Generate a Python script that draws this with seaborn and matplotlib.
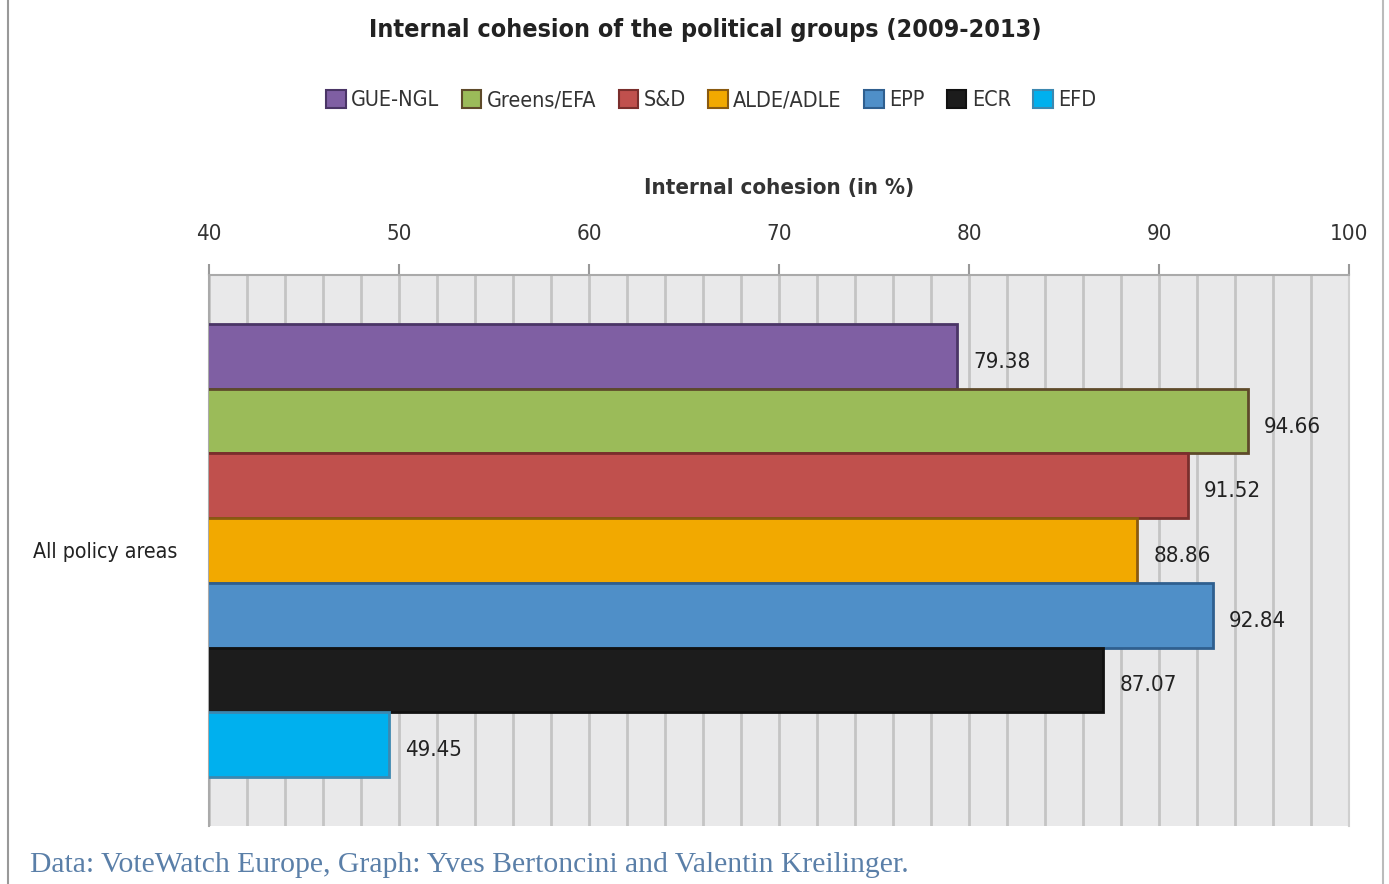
import matplotlib
matplotlib.use("Agg")
import matplotlib.pyplot as plt
import seaborn as sns
import pandas as pd
from matplotlib.patches import Patch
from matplotlib.lines import Line2D
from matplotlib.ticker import MultipleLocator

groups = ["GUE-NGL", "Greens/EFA", "S&D", "ALDE/ADLE", "EPP", "ECR", "EFD"]
values = [79.38, 94.66, 91.52, 88.86, 92.84, 87.07, 49.45]
category = ["All policy areas"] * len(groups)
colors = ["#7f5fa3", "#9bbb59", "#c0504d", "#f2a900", "#4f8fc8", "#1c1c1c", "#00b0ee"]
edges = ["#4a3566", "#5e4a2a", "#7a2e2c", "#8a5a10", "#2f5f8f", "#111111", "#3d88b0"]

sns.set_theme(style="white")
plt.rcParams['font.family'] = ['DejaVu Sans']
plt.rcParams['font.stretch'] = 'condensed'

df = pd.DataFrame({"area": category, "group": groups, "value": values})

fig = plt.figure(figsize=(13.89, 8.84), dpi=100)
ax = fig.add_axes([209/1389, 1 - 826/884, (1349-209)/1389, (826-275)/884])
ax.set_facecolor("#e9e9ea")

sns.barplot(data=df, x="value", y="area", hue="group", hue_order=groups,
            palette=colors, orient="h", width=0.822, dodge=True,
            legend=False, ax=ax, saturation=1, zorder=3)

for p, ec in zip(ax.patches, edges):
    p.set_edgecolor(ec)
    p.set_linewidth(2)

ax.set_xlim(40, 100)
ax.set_ylim(0.5, -0.5)

ax.xaxis.set_major_locator(MultipleLocator(10))
ax.xaxis.set_minor_locator(MultipleLocator(2))
ax.grid(which="both", axis="x", color="#c4c4c4", linewidth=2, zorder=0)
ax.set_axisbelow(True)
ax.xaxis.tick_top()
ax.xaxis.set_label_position("top")
ax.tick_params(axis="x", which="major", top=True, length=8, width=1.5, color="#999999",
               labelsize=16, pad=14, labelcolor="#333333")
ax.tick_params(axis="x", which="minor", top=False)
ax.set_xlabel("Internal cohesion (in %)", fontsize=16, fontweight="bold", color="#333333", labelpad=22)
ax.set_ylabel("")
ax.tick_params(axis="y", left=False, labelsize=15.3, labelcolor="#222222", pad=17)

ax.spines["bottom"].set_visible(False)
for s in ["top", "left", "right"]:
    ax.spines[s].set_color("#aaaaaa")
    ax.spines[s].set_linewidth(1.5)
ax.spines["right"].set_color("#cfcfcf")

for p, v in zip(ax.patches, values):
    y = p.get_y() + p.get_height() / 2
    ax.text(v + 0.85, y + 0.01, f"{v:.2f}", va="center", ha="left", fontsize=16, color="#222222", zorder=5)

handles = [Patch(facecolor=c, edgecolor=e, linewidth=1.5) for c, e in zip(colors, edges)]
fig.legend(handles, groups, loc="center", bbox_to_anchor=(0.512, 1 - 100/884), ncol=7,
           frameon=False, fontsize=15.5, handlelength=0.9, handleheight=0.9,
           handletextpad=0.25, columnspacing=1.05, labelcolor="#333333")

fig.text(0.508, 1 - 30/884, "Internal cohesion of the political groups (2009-2013)",
         ha="center", va="center", fontsize=18, fontweight="bold", color="#222222")

fig.text(30/1389, 1 - 865/884,
         "Data: VoteWatch Europe, Graph: Yves Bertoncini and Valentin Kreilinger.",
         ha="left", va="center", fontsize=21.3, color="#5a7fa8", family=["Liberation Serif", "DejaVu Serif"],
         stretch="normal")

fig.add_artist(Line2D([8/1389, 8/1389], [0, 1], transform=fig.transFigure, color="#999999", linewidth=1.5))
fig.add_artist(Line2D([1383/1389, 1383/1389], [0, 1], transform=fig.transFigure, color="#bbbbbb", linewidth=1.5))

fig.savefig("out.png", dpi=100, facecolor="white")
